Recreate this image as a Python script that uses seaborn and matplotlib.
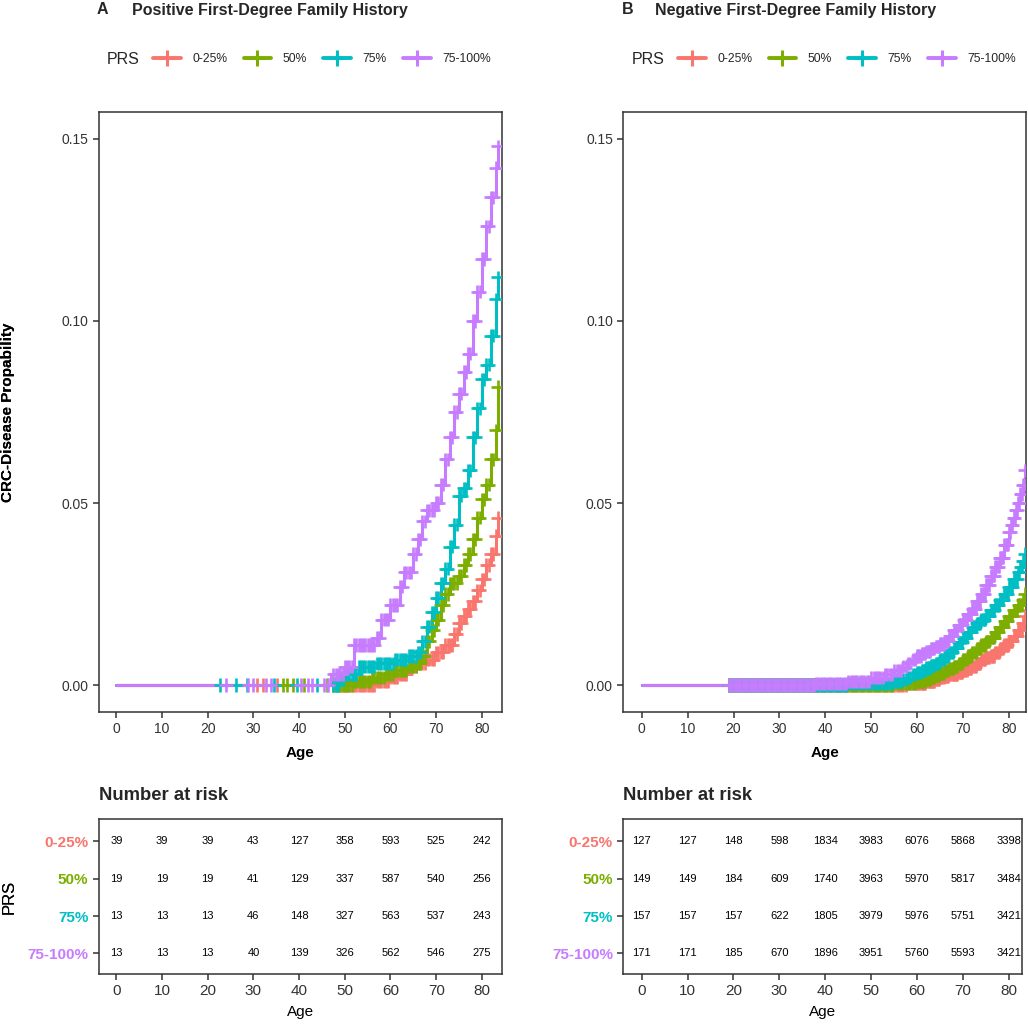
import numpy as np
import pandas as pd
import matplotlib
matplotlib.use("Agg")
import matplotlib.pyplot as plt
from matplotlib.lines import Line2D
import seaborn as sns

# ---------------- data ----------------
groups = ["0-25%", "50%", "75%", "75-100%"]
colors = ["#F8766D", "#7CAE00", "#00BFC4", "#C77CFF"]

# Panel A (positive family history) cumulative incidence step points
a_red_age = [0, 57, 60, 62, 64, 66, 68, 70, 72, 74, 75, 76, 77, 78, 79, 80, 81, 82, 83, 83.5]
a_red_p = [0, .001, .002, .003, .005, .006, .007, .009, .011, .014, .017, .019, .021, .023, .026, .029, .033, .036, .041, .046]
a_green_age = [0, 52, 56, 59, 61, 64, 66, 67, 68, 69, 70, 71, 72, 73, 75, 76, 77, 78, 79, 80, 81, 82, 83, 83.5]
a_green_p = [0, .001, .002, .003, .004, .005, .006, .008, .012, .015, .018, .022, .025, .028, .030, .033, .036, .040, .046, .051, .055, .062, .070, .082]
a_teal_age = [0, 49, 50, 53, 57, 61, 64, 66, 67, 68, 69, 70, 71, 72, 73, 74, 75, 76, 77, 78, 79, 80, 81, 82, 83, 83.5]
a_teal_p = [0, .002, .003, .005, .006, .007, .008, .009, .012, .016, .020, .024, .028, .032, .038, .044, .052, .054, .059, .068, .076, .084, .088, .096, .106, .112]
a_purple_age = [0, 47, 50, 52, 57, 58, 60, 62, 63, 65, 66, 67, 68, 70, 71, 72, 73, 74, 75, 76, 77, 78, 79, 80, 81, 82, 83, 83.5]
a_purple_p = [0, .003, .005, .011, .013, .018, .022, .027, .031, .036, .040, .045, .048, .050, .055, .062, .068, .075, .080, .086, .091, .100, .108, .117, .126, .134, .142, .148]

# Panel A censoring times
a_cens_red = [30.7, 32, 35.1]
a_cens_green = [36.4, 37.3, 38.6, 41, 46]
a_cens_teal = [22.8, 26.2, 28.7, 34.5, 39.5, 44]
a_cens_purple = [24, 28.9, 30, 32.7, 33.8, 40.4, 42, 42.8, 45.4, 46.4]
a_cens_late = [47.5, 48, 48.5, 49, 49.5, 50, 50.5, 51, 51.5, 52, 52.5, 53, 53.5, 54, 54.5,
               55, 55.5, 56, 56.5, 57, 57.5, 58, 58.5, 59, 59.5, 60, 60.5, 61, 61.5, 62,
               62.5, 63, 63.5, 64, 64.5, 65, 65.5, 66, 66.5, 67, 67.5, 68, 68.5, 69, 69.5,
               70, 70.5, 71, 71.5, 72, 72.5, 73, 73.5, 74, 74.5, 75, 75.5, 76, 76.5, 77,
               77.5, 78, 78.5, 79, 79.5, 80, 80.5, 81, 81.5, 82, 82.5, 83, 83.5]

# Panel B (negative family history)
b_red_age = [0, 58, 62, 64, 65, 66, 67, 68, 69, 70, 71, 72, 73, 74, 75, 76, 77, 78, 79, 80, 81, 82, 83, 83.5]
b_red_p = [0, .0005, .001, .0015, .002, .0025, .0028, .003, .0035, .004, .0045, .005, .006, .007, .0075, .008, .009, .010, .011, .012, .0135, .015, .017, .019]
b_green_age = [0, 55, 60, 62, 63, 64, 65, 66, 67, 68, 69, 70, 71, 72, 73, 74, 75, 76, 77, 78, 79, 80, 81, 82, 83, 83.5]
b_green_p = [0, .0005, .001, .0015, .002, .0027, .0033, .004, .0045, .005, .006, .007, .008, .009, .010, .011, .012, .013, .0145, .016, .0175, .019, .0205, .022, .0235, .025]
b_teal_age = [0, 45, 55, 57, 58, 59, 60, 61, 62, 63, 64, 65, 66, 67, 68, 69, 70, 71, 72, 73, 74, 75, 76, 77, 78, 79, 80, 81, 82, 82.5, 83, 83.5]
b_teal_p = [0, .0005, .001, .0015, .002, .003, .0035, .004, .0047, .0053, .006, .007, .008, .009, .0103, .0117, .013, .0145, .016, .017, .018, .019, .0205, .022, .0235, .025, .027, .029, .031, .0325, .034, .036]
b_purple_age = [0, 38, 45, 50, 53, 55, 57, 58, 59, 60, 61, 62, 63, 64, 65, 66, 67, 68, 69, 70, 71, 72, 73, 74, 75, 76, 77, 78, 79, 80, 80.5, 81, 81.5, 82, 82.5, 83, 83.5]
b_purple_p = [0, .0005, .001, .002, .003, .004, .005, .006, .007, .008, .0087, .0093, .010, .0107, .0113, .012, .0135, .015, .0165, .018, .0195, .021, .023, .025, .0275, .030, .0325, .035, .0385, .042, .044, .046, .048, .050, .0525, .055, .059]

b_cens = [19, 19.5, 20, 20.5, 21, 21.5, 22, 22.5, 23, 23.5, 24, 24.5, 25, 25.5, 26, 26.5,
          27, 27.5, 28, 28.5, 29, 29.5, 30, 30.5, 31, 31.5, 32, 32.5, 33, 33.5, 34, 34.5,
          35, 35.5, 36, 36.5, 37, 37.5, 38, 38.5, 39, 39.5, 40, 40.5, 41, 41.5, 42, 42.5,
          43, 43.5, 44, 44.5, 45, 45.5, 46, 46.5, 47, 47.5, 48, 48.5, 49, 49.5, 50, 50.5,
          51, 51.5, 52, 52.5, 53, 53.5, 54, 54.5, 55, 55.5, 56, 56.5, 57, 57.5, 58, 58.5,
          59, 59.5, 60, 60.25, 60.5, 60.75, 61, 61.25, 61.5, 61.75, 62, 62.25, 62.5, 62.75,
          63, 63.25, 63.5, 63.75, 64, 64.25, 64.5, 64.75, 65, 65.25, 65.5, 65.75, 66, 66.25,
          66.5, 66.75, 67, 67.25, 67.5, 67.75, 68, 68.25, 68.5, 68.75, 69, 69.25, 69.5, 69.75,
          70, 70.25, 70.5, 70.75, 71, 71.25, 71.5, 71.75, 72, 72.25, 72.5, 72.75, 73, 73.25,
          73.5, 73.75, 74, 74.25, 74.5, 74.75, 75, 75.25, 75.5, 75.75, 76, 76.25, 76.5, 76.75,
          77, 77.25, 77.5, 77.75, 78, 78.25, 78.5, 78.75, 79, 79.25, 79.5, 79.75, 80, 80.25,
          80.5, 80.75, 81, 81.25, 81.5, 81.75, 82, 82.25, 82.5, 82.75, 83, 83.25, 83.5]

# Number at risk tables
risk_ages = [0, 10, 20, 30, 40, 50, 60, 70, 80]
a_risk_red = [39, 39, 39, 43, 127, 358, 593, 525, 242]
a_risk_green = [19, 19, 19, 41, 129, 337, 587, 540, 256]
a_risk_teal = [13, 13, 13, 46, 148, 327, 563, 537, 243]
a_risk_purple = [13, 13, 13, 40, 139, 326, 562, 546, 275]
b_risk_red = [127, 127, 148, 598, 1834, 3983, 6076, 5868, 3398]
b_risk_green = [149, 149, 184, 609, 1740, 3963, 5970, 5817, 3484]
b_risk_teal = [157, 157, 157, 622, 1805, 3979, 5976, 5751, 3421]
b_risk_purple = [171, 171, 185, 670, 1896, 3951, 5760, 5593, 3421]

titles = ["Positive First-Degree Family History", "Negative First-Degree Family History"]
letters = ["A", "B"]

# ---------------- style ----------------
sns.set_theme(style="white")
plt.rcParams["font.family"] = ["Liberation Sans", "DejaVu Sans"]
DARK = "#333333"
TICK = "#333333"

W, H = 1028, 1025
fig = plt.figure(figsize=(W / 100, H / 100), dpi=100)


def px_rect(l, t, r, b):
    return [l / W, 1 - b / H, (r - l) / W, (b - t) / H]


def step_val(ages, probs, t):
    ages = np.asarray(ages)
    probs = np.asarray(probs)
    i = np.searchsorted(ages, t, side="right") - 1
    return probs[i]


def build_curves(curves):
    frames = []
    for g, (ages, probs) in zip(groups, curves):
        frames.append(pd.DataFrame({"Age": ages, "Prob": probs, "PRS": g}))
    return pd.concat(frames, ignore_index=True)


def build_censors(curves, cens_lists):
    frames = []
    for g, (ages, probs), cl in zip(groups, curves, cens_lists):
        ys = [step_val(ages, probs, t) for t in cl]
        frames.append(pd.DataFrame({"Age": cl, "Prob": ys, "PRS": g}))
    return pd.concat(frames, ignore_index=True)


def style_axes(ax):
    for s in ax.spines.values():
        s.set_visible(True)
        s.set_color(DARK)
        s.set_linewidth(1.1)
    ax.tick_params(axis="both", direction="out", length=4, width=1.1, color=DARK,
                   labelcolor=TICK, bottom=True, left=True)
    ax.grid(False)


panels = [
    dict(curves=[(a_red_age, a_red_p), (a_green_age, a_green_p), (a_teal_age, a_teal_p), (a_purple_age, a_purple_p)],
         cens=[a_cens_red + a_cens_late, a_cens_green + a_cens_late, a_cens_teal + a_cens_late, a_cens_purple + a_cens_late],
         risk=[a_risk_red, a_risk_green, a_risk_teal, a_risk_purple],
         main=(98.7, 112, 502, 712), table=(98.7, 819, 502, 974), xlim=(-3.85, 84.4), txlim=(-3.85, 84.4),
         x0=97, tx=132, legx=107, leghx=153),
    dict(curves=[(b_red_age, b_red_p), (b_green_age, b_green_p), (b_teal_age, b_teal_p), (b_purple_age, b_purple_p)],
         cens=[b_cens, b_cens, b_cens, b_cens],
         risk=[b_risk_red, b_risk_green, b_risk_teal, b_risk_purple],
         main=(623.3, 112, 1026, 712), table=(623.3, 819, 1022, 974), xlim=(-4.0, 83.7), txlim=(-4.0, 82.85),
         x0=622, tx=655, legx=632, leghx=678),
]

for k, P in enumerate(panels):
    ax = fig.add_axes(px_rect(*P["main"]))
    dfc = build_curves(P["curves"])
    dfs = build_censors(P["curves"], P["cens"])
    sns.lineplot(data=dfc, x="Age", y="Prob", hue="PRS", hue_order=groups, palette=colors,
                 drawstyle="steps-post", linewidth=2.2, estimator=None, sort=False,
                 legend=False, ax=ax)
    sns.scatterplot(data=dfs, x="Age", y="Prob", hue="PRS", hue_order=groups, palette=colors,
                    marker="+", s=90, linewidth=1.9, legend=False, ax=ax, zorder=3)
    ax.set_xlim(*P["xlim"])
    ax.set_ylim(-0.0074, 0.1574)
    ax.set_xticks(risk_ages)
    ax.set_yticks([0, 0.05, 0.10, 0.15])
    ax.set_yticklabels(["0.00", "0.05", "0.10", "0.15"])
    style_axes(ax)
    ax.tick_params(labelsize=10)
    ax.set_xlabel("Age", fontsize=11, fontweight="bold", color="black", labelpad=7)
    ax.set_ylabel("CRC-Disease Propability", fontsize=11, fontweight="bold", color="black")
    ax.yaxis.set_label_coords((15 - P["main"][0]) / (P["main"][2] - P["main"][0]), 0.5)

    # title
    fig.text(P["x0"] / W, 1 - 10 / H, letters[k], fontsize=11.5, fontweight="bold", va="center", ha="left")
    fig.text(P["tx"] / W, 1 - 10 / H, titles[k], fontsize=11.5, fontweight="bold", va="center", ha="left")

    # legend
    fig.text(P["legx"] / W, 1 - 60 / H, "PRS", fontsize=11.5, va="center", ha="left")
    handles = [Line2D([0], [0], color=c, lw=2.8, marker="+", markersize=11, markeredgewidth=2.2)
               for c in colors]
    ax.legend(handles, groups, loc="center left", bbox_to_anchor=(P["leghx"] / W, 1 - 59 / H),
              bbox_transform=fig.transFigure, ncol=4, frameon=False, fontsize=8.7,
              handlelength=2.3, handletextpad=0.95, columnspacing=1.35, borderpad=0, borderaxespad=0)

    # risk table
    axt = fig.add_axes(px_rect(*P["table"]))
    rows = [4, 3, 2, 1]
    for r, vals in zip(rows, P["risk"]):
        for a, v in zip(risk_ages, vals):
            axt.text(a, r, str(v), ha="center", va="center", fontsize=8, color="black")
    axt.set_xlim(*P["txlim"])
    axt.set_ylim(0.45, 4.6)
    axt.set_xticks(risk_ages)
    axt.set_yticks(rows)
    axt.set_yticklabels(groups)
    style_axes(axt)
    axt.tick_params(axis="x", labelsize=11)
    axt.tick_params(axis="y", labelsize=11)
    for lab, c in zip(axt.get_yticklabels(), colors):
        lab.set_color(c)
        lab.set_fontweight("bold")
    axt.set_xlabel("Age", fontsize=11, color="black", labelpad=5)
    axt.set_ylabel("PRS", fontsize=12, color="black")
    axt.yaxis.set_label_coords((17 - P["table"][0]) / (P["table"][2] - P["table"][0]), 0.5)
    fig.text(P["main"][0] / W, 1 - 795 / H, "Number at risk", fontsize=13.3, fontweight="bold",
             va="center", ha="left")

fig.savefig("out.png", dpi=100)
